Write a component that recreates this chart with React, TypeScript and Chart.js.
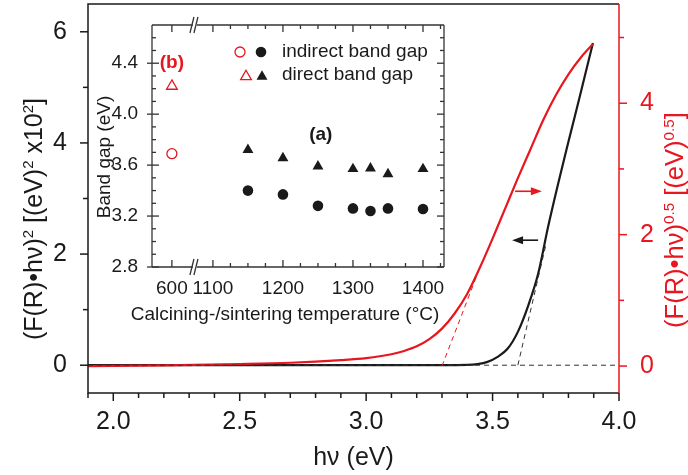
import React, { useEffect, useRef } from "react";
import { Chart, registerables } from "chart.js";

Chart.register(...registerables);

const FONT = '"Liberation Sans", Arial, Helvetica, sans-serif';
const RED = "#e8161e";
const INK = "#1a1a1a";

// ---------- main chart data ----------
const blackEnergy = [1.9, 2.5, 3.0, 3.3, 3.4, 3.44, 3.48, 3.52, 3.56, 3.6, 3.64, 3.68, 3.72, 3.76, 3.8, 3.85, 3.897];
const blackValue = [0, 0, 0, 0, 0.005, 0.02, 0.06, 0.15, 0.3, 0.6, 1.06, 1.64, 2.5, 3.28, 4.02, 4.93, 5.8];

const redEnergy = [1.9, 2.2, 2.5, 2.7, 2.9, 3.0, 3.1, 3.15, 3.2, 3.25, 3.3, 3.35, 3.4, 3.45, 3.5, 3.55, 3.6, 3.65, 3.7, 3.75, 3.8, 3.85, 3.897];
const redValue = [0, 0.01, 0.03, 0.05, 0.09, 0.12, 0.18, 0.23, 0.3, 0.41, 0.57, 0.8, 1.1, 1.5, 1.94, 2.4, 2.86, 3.3, 3.74, 4.12, 4.44, 4.7, 4.9];

const baselineEnergy = [1.9, 4.0];
const baselineValue = [0, 0];
const blackTangentEnergy = [3.6, 3.71];
const blackTangentValue = [0, 2.15];
const redTangentEnergy = [3.3, 3.44];
const redTangentValue = [0, 1.4];

// arrows (left-axis units)
const redArrowEnergy = [3.589, 3.695];
const redArrowLevel = 3.13;
const blackArrowEnergy = [3.68, 3.577];
const blackArrowLevel = 2.25;

const xMajorTicks = [2.0, 2.5, 3.0, 3.5, 4.0];
const xMinorTicks = [1.9, 2.1, 2.2, 2.3, 2.4, 2.6, 2.7, 2.8, 2.9, 3.1, 3.2, 3.3, 3.4, 3.6, 3.7, 3.8, 3.9];
const leftMajorTicks = [0, 2, 4, 6];
const leftMinorTicks = [1, 3, 5];
const rightMajorTicks = [0, 2, 4];
const rightMinorTicks = [1, 3, 5];

// ---------- inset data ----------
const insetTemps = [1150, 1200, 1250, 1300, 1325, 1350, 1400];
const indirectGap = [3.4, 3.37, 3.28, 3.26, 3.24, 3.26, 3.255];
const directGap = [3.72, 3.655, 3.59, 3.57, 3.575, 3.53, 3.57];
const calcinedTemp = [600];
const calcinedIndirect = [3.69];
const calcinedDirect = [4.22];
const insetXTickValues = [600, 1100, 1200, 1300, 1400];
const insetXTickLabels = ["600", "1100", "1200", "1300", "1400"];
const insetXMinorTicks = [1125, 1150, 1175, 1225, 1250, 1275, 1325, 1350, 1375, 1425];
const insetYTicks = [2.8, 3.2, 3.6, 4.0, 4.4];
const insetYMinorTicks = [2.9, 3.0, 3.1, 3.3, 3.4, 3.5, 3.7, 3.8, 3.9, 4.1, 4.2, 4.3, 4.5, 4.6];

// axis break: 600 °C segment shifted next to 1100 °C
const BREAK_SHIFT = 441.4;
const BREAK_AT = 1074.3;
const brk = (t: number) => (t < 1000 ? t + BREAK_SHIFT : t);

type Seg = { t: string; sup?: boolean; bold?: boolean };

function drawRich(ctx: CanvasRenderingContext2D, segs: Seg[], x: number, y: number, size: number, color: string, rotate: boolean) {
  ctx.save();
  ctx.translate(x, y);
  if (rotate) ctx.rotate(-Math.PI / 2);
  const supSize = size * 0.6;
  let total = 0;
  const widths: number[] = [];
  for (const s of segs) {
    ctx.font = `${s.bold ? "bold " : ""}${s.sup ? supSize : size}px ${FONT}`;
    const w = ctx.measureText(s.t).width;
    widths.push(w);
    total += w;
  }
  let cx = -total / 2;
  const base = size * 0.35;
  ctx.fillStyle = color;
  ctx.textBaseline = "alphabetic";
  ctx.textAlign = "left";
  segs.forEach((s, i) => {
    ctx.font = `${s.bold ? "bold " : ""}${s.sup ? supSize : size}px ${FONT}`;
    ctx.fillText(s.t, cx, s.sup ? base - size * 0.36 : base);
    cx += widths[i];
  });
  ctx.restore();
}

function drawArrow(ctx: CanvasRenderingContext2D, x0: number, x1: number, y: number, color: string) {
  const dir = Math.sign(x1 - x0);
  const head = 11;
  ctx.save();
  ctx.strokeStyle = color;
  ctx.fillStyle = color;
  ctx.lineWidth = 1.6;
  ctx.beginPath();
  ctx.moveTo(x0, y);
  ctx.lineTo(x1 - dir * head * 0.8, y);
  ctx.stroke();
  ctx.beginPath();
  ctx.moveTo(x1, y);
  ctx.lineTo(x1 - dir * head, y - 4);
  ctx.lineTo(x1 - dir * head, y + 4);
  ctx.closePath();
  ctx.fill();
  ctx.restore();
}

function line(ctx: CanvasRenderingContext2D, x0: number, y0: number, x1: number, y1: number) {
  ctx.beginPath();
  ctx.moveTo(x0, y0);
  ctx.lineTo(x1, y1);
  ctx.stroke();
}

const mainDecor = {
  id: "mainDecor",
  afterDraw(chart: any) {
    const { ctx, chartArea: a, scales } = chart;
    const sx = scales.x, sy = scales.y, sy2 = scales.y2;
    ctx.save();
    ctx.lineWidth = 1.5;
    ctx.strokeStyle = INK;
    ctx.beginPath();
    ctx.moveTo(a.right, a.top);
    ctx.lineTo(a.left, a.top);
    ctx.lineTo(a.left, a.bottom);
    ctx.lineTo(a.right, a.bottom);
    ctx.stroke();
    for (const v of xMajorTicks) { const p = sx.getPixelForValue(v); line(ctx, p, a.bottom, p, a.bottom + 8); }
    for (const v of xMinorTicks) { const p = sx.getPixelForValue(v); line(ctx, p, a.bottom, p, a.bottom + 5); }
    for (const v of leftMajorTicks) { const p = sy.getPixelForValue(v); line(ctx, a.left - 8, p, a.left, p); }
    for (const v of leftMinorTicks) { const p = sy.getPixelForValue(v); line(ctx, a.left - 5, p, a.left, p); }
    ctx.strokeStyle = RED;
    line(ctx, a.right, a.top, a.right, a.bottom);
    for (const v of rightMajorTicks) { const p = sy2.getPixelForValue(v); line(ctx, a.right, p, a.right + 8, p); }
    for (const v of rightMinorTicks) { const p = sy2.getPixelForValue(v); line(ctx, a.right, p, a.right + 5, p); }
    ctx.restore();

    drawArrow(ctx, sx.getPixelForValue(redArrowEnergy[0]), sx.getPixelForValue(redArrowEnergy[1]), sy.getPixelForValue(redArrowLevel), RED);
    drawArrow(ctx, sx.getPixelForValue(blackArrowEnergy[0]), sx.getPixelForValue(blackArrowEnergy[1]), sy.getPixelForValue(blackArrowLevel), INK);

    drawRich(ctx, [{ t: "(F(R)\u2022h\u03bd)" }, { t: "2", sup: true }, { t: " [(eV)" }, { t: "2", sup: true }, { t: " x10" }, { t: "2", sup: true }, { t: "]" }], 33, 219, 25, INK, true);
    drawRich(ctx, [{ t: "(F(R)\u2022h\u03bd)" }, { t: "0.5", sup: true }, { t: " [(eV)" }, { t: "0.5", sup: true }, { t: "]" }], 674, 220, 25.5, RED, true);
    drawRich(ctx, [{ t: "h\u03bd (eV)" }], (a.left + a.right) / 2, 456, 25, INK, false);
  },
};

function drawCircle(ctx: CanvasRenderingContext2D, x: number, y: number, r: number, fill: boolean, color: string) {
  ctx.beginPath();
  ctx.arc(x, y, r, 0, Math.PI * 2);
  if (fill) { ctx.fillStyle = color; ctx.fill(); } else { ctx.strokeStyle = color; ctx.lineWidth = 1.3; ctx.stroke(); }
}
function drawTri(ctx: CanvasRenderingContext2D, x: number, y: number, r: number, fill: boolean, color: string) {
  ctx.beginPath();
  ctx.moveTo(x, y - r);
  ctx.lineTo(x + r * 0.866, y + r * 0.5);
  ctx.lineTo(x - r * 0.866, y + r * 0.5);
  ctx.closePath();
  if (fill) { ctx.fillStyle = color; ctx.fill(); } else { ctx.strokeStyle = color; ctx.lineWidth = 1.3; ctx.stroke(); }
}

const insetDecor = {
  id: "insetDecor",
  afterDraw(chart: any) {
    const { ctx, chartArea: a, scales } = chart;
    const sx = scales.x, sy = scales.y;
    const bx = sx.getPixelForValue(BREAK_AT);
    ctx.save();
    ctx.lineWidth = 1.3;
    ctx.strokeStyle = "#333";
    line(ctx, a.left, a.top, a.left, a.bottom);
    line(ctx, a.right, a.top, a.right, a.bottom);
    line(ctx, a.left, a.top, bx - 2, a.top);
    line(ctx, bx + 2, a.top, a.right, a.top);
    line(ctx, a.left, a.bottom, bx - 2, a.bottom);
    line(ctx, bx + 2, a.bottom, a.right, a.bottom);
    for (const yy of [a.top, a.bottom]) {
      line(ctx, bx - 5, yy + 8, bx - 1, yy - 8);
      line(ctx, bx - 1, yy + 8, bx + 3, yy - 8);
    }
    for (const v of insetXTickValues) {
      const p = sx.getPixelForValue(brk(v));
      line(ctx, p, a.bottom, p, a.bottom - 7);
      line(ctx, p, a.top, p, a.top + 7);
    }
    for (const v of insetXMinorTicks) {
      const p = sx.getPixelForValue(v);
      if (p > a.right) continue;
      line(ctx, p, a.bottom, p, a.bottom - 4);
      line(ctx, p, a.top, p, a.top + 4);
    }
    for (const v of insetYTicks) {
      const p = sy.getPixelForValue(v);
      line(ctx, a.left - 5, p, a.left + 7, p);
      line(ctx, a.right - 7, p, a.right, p);
    }
    for (const v of insetYMinorTicks) {
      const p = sy.getPixelForValue(v);
      line(ctx, a.left, p, a.left + 4, p);
      line(ctx, a.right - 4, p, a.right, p);
    }
    ctx.restore();

    ctx.save();
    const r1 = a.top + 27, r2 = a.top + 50;
    drawCircle(ctx, a.left + 88, r1, 5, false, RED);
    drawCircle(ctx, a.left + 109, r1, 5.3, true, INK);
    drawTri(ctx, a.left + 94, r2 + 1.5, 6.2, false, RED);
    drawTri(ctx, a.left + 110, r2 + 1.5, 6.3, true, INK);
    ctx.fillStyle = INK;
    ctx.font = `19px ${FONT}`;
    ctx.textBaseline = "middle";
    ctx.textAlign = "left";
    ctx.fillText("indirect band gap", a.left + 130, r1);
    ctx.fillText("direct band gap", a.left + 130, r2);
    ctx.font = `bold 19px ${FONT}`;
    ctx.textAlign = "center";
    ctx.fillStyle = RED;
    ctx.fillText("(b)", sx.getPixelForValue(brk(600)), sy.getPixelForValue(4.4));
    ctx.fillStyle = INK;
    ctx.fillText("(a)", sx.getPixelForValue(1254), sy.getPixelForValue(3.84));
    ctx.restore();

    drawRich(ctx, [{ t: "Band gap (eV)" }], 13, 152, 19, INK, true);
    drawRich(ctx, [{ t: "Calcining-/sintering temperature (\u00b0C)" }], a.left + 133, a.bottom + 46, 19, INK, false);
  },
};

function pts(xs: number[], ys: number[], map?: (v: number) => number) {
  return xs.map((x, i) => ({ x: map ? map(x) : x, y: ys[i] }));
}

export default function App() {
  const mainRef = useRef<HTMLCanvasElement>(null);
  const insetRef = useRef<HTMLCanvasElement>(null);

  useEffect(() => {
    const lineDs = (data: any, color: string, axis: string, width: number, dash: number[] | undefined, order: number) => ({
      data,
      yAxisID: axis,
      borderColor: color,
      borderWidth: width,
      borderDash: dash,
      pointRadius: 0,
      showLine: true,
      fill: false,
      tension: 0,
      cubicInterpolationMode: "monotone",
      order,
    });

    const main = new Chart(mainRef.current as HTMLCanvasElement, {
      type: "scatter",
      data: {
        datasets: [
          lineDs(pts(baselineEnergy, baselineValue), "#333", "y", 1, [5, 4], 1),
          lineDs(pts(blackTangentEnergy, blackTangentValue), "#333", "y", 1, [5, 4], 1),
          lineDs(pts(redTangentEnergy, redTangentValue), RED, "y2", 1, [5, 4], 1),
          lineDs(pts(redEnergy, redValue), RED, "y2", 2.2, undefined, 2),
          lineDs(pts(blackEnergy, blackValue), INK, "y", 2.2, undefined, 3),
        ] as any,
      },
      options: {
        responsive: false,
        devicePixelRatio: 1,
        animation: false,
        layout: { padding: { top: 4, left: 0, right: 0, bottom: 0 } },
        plugins: { legend: { display: false }, tooltip: { enabled: false } },
        scales: {
          x: {
            type: "linear",
            position: "bottom",
            min: 1.9,
            max: 4.0,
            grid: { display: false },
            border: { display: false },
            ticks: { font: { size: 25, family: FONT }, color: INK, padding: 6, maxRotation: 0, autoSkip: false, callback: (v: any) => Number(v).toFixed(1) },
            afterBuildTicks: (s: any) => { s.ticks = xMajorTicks.map((v) => ({ value: v })); },
            afterFit: (s: any) => { s.height = 82; s.paddingLeft = 0; s.paddingRight = 0; },
          },
          y: {
            type: "linear",
            position: "left",
            min: -0.5,
            max: 6.5,
            grid: { display: false },
            border: { display: false },
            ticks: { font: { size: 25, family: FONT }, color: INK, padding: 13, callback: (v: any) => String(v) },
            afterBuildTicks: (s: any) => { s.ticks = leftMajorTicks.map((v) => ({ value: v })); },
            afterFit: (s: any) => { s.width = 88; s.paddingTop = 0; s.paddingBottom = 0; },
          },
          y2: {
            type: "linear",
            position: "right",
            min: -0.41,
            max: 5.51,
            grid: { display: false },
            border: { display: false },
            ticks: { font: { size: 25, family: FONT }, color: RED, padding: 13, callback: (v: any) => String(v) },
            afterBuildTicks: (s: any) => { s.ticks = rightMajorTicks.map((v) => ({ value: v })); },
            afterFit: (s: any) => { s.width = 69; s.paddingTop = 0; s.paddingBottom = 0; },
          },
        },
      } as any,
      plugins: [mainDecor],
    });

    const inset = new Chart(insetRef.current as HTMLCanvasElement, {
      type: "scatter",
      data: {
        datasets: [
          { data: pts(insetTemps, indirectGap), pointStyle: "circle", pointRadius: 5.3, backgroundColor: INK, borderWidth: 0 },
          { data: pts(insetTemps, directGap), pointStyle: "triangle", pointRadius: 6.3, backgroundColor: INK, borderWidth: 0 },
          { data: pts(calcinedTemp, calcinedIndirect, brk), pointStyle: "circle", pointRadius: 5, backgroundColor: "rgba(0,0,0,0)", borderColor: RED, borderWidth: 1.3 },
          { data: pts(calcinedTemp, calcinedDirect, brk), pointStyle: "triangle", pointRadius: 6.2, backgroundColor: "rgba(0,0,0,0)", borderColor: RED, borderWidth: 1.3 },
        ] as any,
      },
      options: {
        responsive: false,
        devicePixelRatio: 1,
        animation: false,
        layout: { padding: { top: 20, left: 0, right: 16, bottom: 0 } },
        plugins: { legend: { display: false }, tooltip: { enabled: false } },
        scales: {
          x: {
            type: "linear",
            min: 1013,
            max: 1430,
            grid: { display: false },
            border: { display: false },
            ticks: { font: { size: 19, family: FONT }, color: INK, padding: 2, maxRotation: 0, autoSkip: false, callback: (_v: any, i: number) => insetXTickLabels[i] },
            afterBuildTicks: (s: any) => { s.ticks = insetXTickValues.map((v) => ({ value: brk(v) })); },
            afterFit: (s: any) => { s.height = 63; s.paddingLeft = 0; s.paddingRight = 0; },
          },
          y: {
            type: "linear",
            min: 2.8,
            max: 4.7,
            grid: { display: false },
            border: { display: false },
            ticks: { font: { size: 19, family: FONT }, color: INK, padding: 6, callback: (v: any) => Number(v).toFixed(1) },
            afterBuildTicks: (s: any) => { s.ticks = insetYTicks.map((v) => ({ value: v })); },
            afterFit: (s: any) => { s.width = 62; s.paddingTop = 0; s.paddingBottom = 0; },
          },
        },
      } as any,
      plugins: [insetDecor],
    });

    return () => {
      main.destroy();
      inset.destroy();
    };
  }, []);

  return (
    <div style={{ position: "fixed", left: 0, top: 0, width: 688, height: 475, background: "#fff" }}>
      <canvas ref={mainRef} width={688} height={475} style={{ position: "absolute", left: 0, top: 0, display: "block" }} />
      <canvas ref={insetRef} width={370} height={325} style={{ position: "absolute", left: 90, top: 5, display: "block" }} />
    </div>
  );
}
